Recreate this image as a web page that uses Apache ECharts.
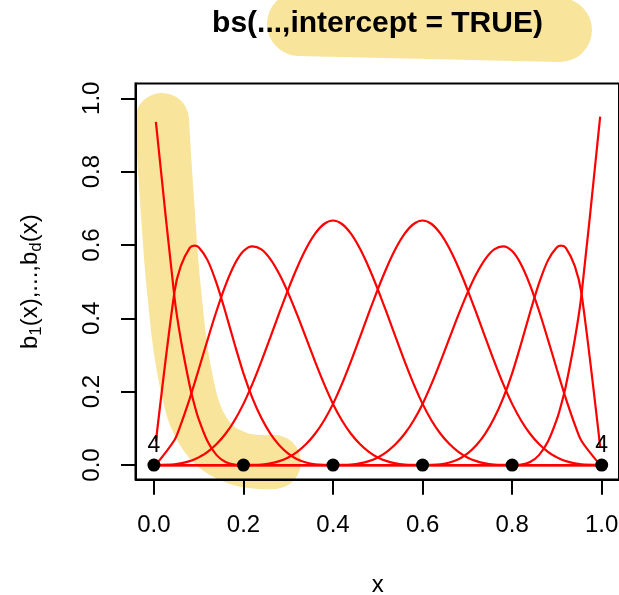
<!DOCTYPE html>
<html><head><meta charset="utf-8">
<script src="https://cdn.jsdelivr.net/npm/echarts@6/dist/echarts.min.js"></script>
<style>html,body{margin:0;padding:0;background:#fff}#c{width:619px;height:595px}</style>
</head><body><div id="c"></div>
<script>
// x positions at which the basis functions were evaluated
const xs = [0.0044, 0.046, 0.06, 0.08, 0.09, 0.10, 0.12, 0.14, 0.16, 0.18, 0.20,
  0.22, 0.24, 0.26, 0.28, 0.30, 0.32, 0.34, 0.36, 0.38, 0.40,
  0.42, 0.44, 0.46, 0.48, 0.50, 0.52, 0.54, 0.56, 0.58, 0.60,
  0.62, 0.64, 0.66, 0.68, 0.70, 0.72, 0.74, 0.76, 0.78, 0.80,
  0.82, 0.84, 0.86, 0.88, 0.90, 0.91, 0.92, 0.94, 0.955, 0.9966];

const b1 = [0.9354, 0.4565, 0.343, 0.216, 0.1664, 0.125, 0.064, 0.027, 0.008, 0.001, 0,
  0, 0, 0, 0, 0, 0, 0, 0, 0, 0,
  0, 0, 0, 0, 0, 0, 0, 0, 0, 0,
  0, 0, 0, 0, 0, 0, 0, 0, 0, 0,
  0, 0, 0, 0, 0, 0, 0, 0, 0, 0];
const b2 = [0.0638, 0.4732, 0.5423, 0.592, 0.5982, 0.5938, 0.558, 0.4953, 0.416, 0.3308, 0.25,
  0.1823, 0.128, 0.0858, 0.054, 0.0313, 0.016, 0.0068, 0.002, 0.0003, 0,
  0, 0, 0, 0, 0, 0, 0, 0, 0, 0,
  0, 0, 0, 0, 0, 0, 0, 0, 0, 0,
  0, 0, 0, 0, 0, 0, 0, 0, 0, 0];
const b3 = [0.0007, 0.0682, 0.1103, 0.1813, 0.2202, 0.2604, 0.342, 0.4206, 0.4907, 0.5468, 0.5833,
  0.5964, 0.588, 0.5616, 0.5207, 0.4688, 0.4093, 0.3459, 0.282, 0.2211, 0.1667,
  0.1215, 0.0853, 0.0572, 0.036, 0.0208, 0.0107, 0.0045, 0.0013, 0.0002, 0,
  0, 0, 0, 0, 0, 0, 0, 0, 0, 0,
  0, 0, 0, 0, 0, 0, 0, 0, 0, 0];
const b4 = [0, 0.002, 0.0045, 0.0107, 0.0152, 0.0208, 0.036, 0.0572, 0.0853, 0.1215, 0.1667,
  0.2212, 0.2827, 0.3482, 0.4147, 0.4792, 0.5387, 0.5902, 0.6307, 0.6572, 0.6667,
  0.6572, 0.6307, 0.5902, 0.5387, 0.4792, 0.4147, 0.3482, 0.2827, 0.2212, 0.1667,
  0.1215, 0.0853, 0.0572, 0.036, 0.0208, 0.0107, 0.0045, 0.0013, 0.0002, 0,
  0, 0, 0, 0, 0, 0, 0, 0, 0, 0];
const b5 = [0, 0, 0, 0, 0, 0, 0, 0, 0, 0, 0,
  0.0002, 0.0013, 0.0045, 0.0107, 0.0208, 0.036, 0.0572, 0.0853, 0.1215, 0.1667,
  0.2212, 0.2827, 0.3482, 0.4147, 0.4792, 0.5387, 0.5902, 0.6307, 0.6572, 0.6667,
  0.6572, 0.6307, 0.5902, 0.5387, 0.4792, 0.4147, 0.3482, 0.2827, 0.2212, 0.1667,
  0.1215, 0.0853, 0.0572, 0.036, 0.0208, 0.0152, 0.0107, 0.0045, 0.0019, 0];
const b6 = [0, 0, 0, 0, 0, 0, 0, 0, 0, 0, 0,
  0, 0, 0, 0, 0, 0, 0, 0, 0, 0,
  0.0002, 0.0013, 0.0045, 0.0107, 0.0208, 0.036, 0.0572, 0.0853, 0.1215, 0.1667,
  0.2211, 0.282, 0.3459, 0.4093, 0.4688, 0.5207, 0.5616, 0.588, 0.5964, 0.5833,
  0.5468, 0.4907, 0.4206, 0.342, 0.2604, 0.2202, 0.1813, 0.1103, 0.0655, 0.0004];
const b7 = [0, 0, 0, 0, 0, 0, 0, 0, 0, 0, 0,
  0, 0, 0, 0, 0, 0, 0, 0, 0, 0,
  0, 0, 0, 0, 0, 0, 0, 0, 0, 0,
  0.0003, 0.002, 0.0068, 0.016, 0.0313, 0.054, 0.0858, 0.128, 0.1823, 0.25,
  0.3308, 0.416, 0.4953, 0.558, 0.5938, 0.5982, 0.592, 0.5423, 0.4671, 0.0497];
const b8 = [0, 0, 0, 0, 0, 0, 0, 0, 0, 0, 0,
  0, 0, 0, 0, 0, 0, 0, 0, 0, 0,
  0, 0, 0, 0, 0, 0, 0, 0, 0, 0,
  0, 0, 0, 0, 0, 0, 0, 0, 0, 0,
  0.001, 0.008, 0.027, 0.064, 0.125, 0.1664, 0.216, 0.343, 0.4655, 0.9499];

const knots = [0, 0.2, 0.4, 0.6, 0.8, 1];
const knotY = [0, 0, 0, 0, 0, 0];
const knotMult = [4, 1, 1, 1, 1, 4];

const xTicks = [0, 0.2, 0.4, 0.6, 0.8, 1];
const xTickLabels = ['0.0', '0.2', '0.4', '0.6', '0.8', '1.0'];
const yTicks = [0, 0.2, 0.4, 0.6, 0.8, 1];
const yTickLabels = ['0.0', '0.2', '0.4', '0.6', '0.8', '1.0'];

const titleText = 'bs(...,intercept = TRUE)';
const xName = 'x';

const basis = [b1, b2, b3, b4, b5, b6, b7, b8];
const FONT = 'Liberation Sans, Arial, Helvetica, sans-serif';

function lab(ticks, labels) {
  return function (v) {
    for (let i = 0; i < ticks.length; i++) if (Math.abs(ticks[i] - v) < 1e-9) return labels[i];
    return '';
  };
}

const chart = echarts.init(document.getElementById('c'), null, {renderer: 'canvas'});

const series = basis.map(function (b) {
  return {
    type: 'line',
    data: xs.map(function (x, i) { return [x, b[i]]; }),
    showSymbol: false,
    symbol: 'none',
    smooth: 0.3,
    clip: false,
    lineStyle: {color: '#ff0000', width: 2.2},
    z: 3,
    silent: true
  };
});
series.push({
  type: 'scatter',
  data: knots.map(function (k, i) { return {value: [k, knotY[i]],
    label: {show: knotMult[i] > 1}}; }),
  symbol: 'circle',
  symbolSize: 13,
  itemStyle: {color: '#000', opacity: 1},
  clip: false,
  z: 4,
  label: {
    position: 'top',
    distance: 1,
    fontSize: 23,
    fontFamily: FONT,
    color: '#000',
    formatter: function (p) { return String(knotMult[p.dataIndex]); }
  },
  silent: true
});

const HL = '#F8E49B';

chart.setOption({
  animation: false,
  backgroundColor: '#ffffff',
  title: {
    text: titleText,
    left: 377.5,
    top: 9,
    textAlign: 'center',
    padding: 0,
    textStyle: {fontSize: 30, fontWeight: 'bold', fontFamily: FONT, color: '#000'}
  },
  grid: {left: 136, top: 83.6, width: 483.6, height: 396.1, containLabel: false, outerBoundsMode: 'none'},
  xAxis: {
    type: 'value', min: -0.04, max: 1.04, position: 'bottom',
    axisLine: {show: true, onZero: false, lineStyle: {color: '#000', width: 2}},
    axisTick: {show: true, inside: false, customValues: xTicks, length: 15, lineStyle: {color: '#000', width: 2}},
    axisLabel: {show: true, inside: false, customValues: xTicks, margin: 34, fontSize: 24, fontFamily: FONT, color: '#000',
      formatter: lab(xTicks, xTickLabels)},
    splitLine: {show: false},
    name: xName, nameLocation: 'middle', nameGap: 94,
    nameTextStyle: {fontSize: 24, fontFamily: FONT, color: '#000'}
  },
  yAxis: {
    type: 'value', min: -0.04, max: 1.04, position: 'left',
    axisLine: {show: true, onZero: false, lineStyle: {color: '#000', width: 2}},
    axisTick: {show: true, inside: false, customValues: yTicks, length: 15, lineStyle: {color: '#000', width: 2}},
    axisLabel: {show: true, inside: false, customValues: yTicks, margin: 32, rotate: 90, fontSize: 24, fontFamily: FONT, color: '#000',
      formatter: lab(yTicks, yTickLabels)},
    splitLine: {show: false},
    name: '{n|b}{s|1}{n|(x),...,b}{s|d}{n|(x)}',
    nameLocation: 'middle', nameGap: 91, nameRotate: 90,
    nameTextStyle: {
      fontSize: 24, fontFamily: FONT, color: '#000',
      rich: {
        n: {fontSize: 24, fontFamily: FONT, color: '#000', lineHeight: 30},
        s: {fontSize: 17, fontFamily: FONT, color: '#000', lineHeight: 30, padding: [12, 0, 0, 0]}
      }
    }
  },
  graphic: [
    {type: 'polyline', z: -10, silent: true,
     shape: {points: [[162, 120], [167, 200], [174, 290], [186, 380], [205, 434], [237, 458], [274, 462]], smooth: 0.4},
     style: {stroke: HL, lineWidth: 54, lineCap: 'round', lineJoin: 'round', fill: null}},
    {type: 'polyline', z: -10, silent: true,
     shape: {points: [[299, 24], [560, 30]]},
     style: {stroke: HL, lineWidth: 64, lineCap: 'round', fill: null}},
    {type: 'rect', z: 10, silent: true,
     shape: {x: 135.5, y: 83.5, width: 483.5, height: 396},
     style: {fill: null, stroke: '#000', lineWidth: 2}}
  ],
  series: series
});
</script></body></html>
